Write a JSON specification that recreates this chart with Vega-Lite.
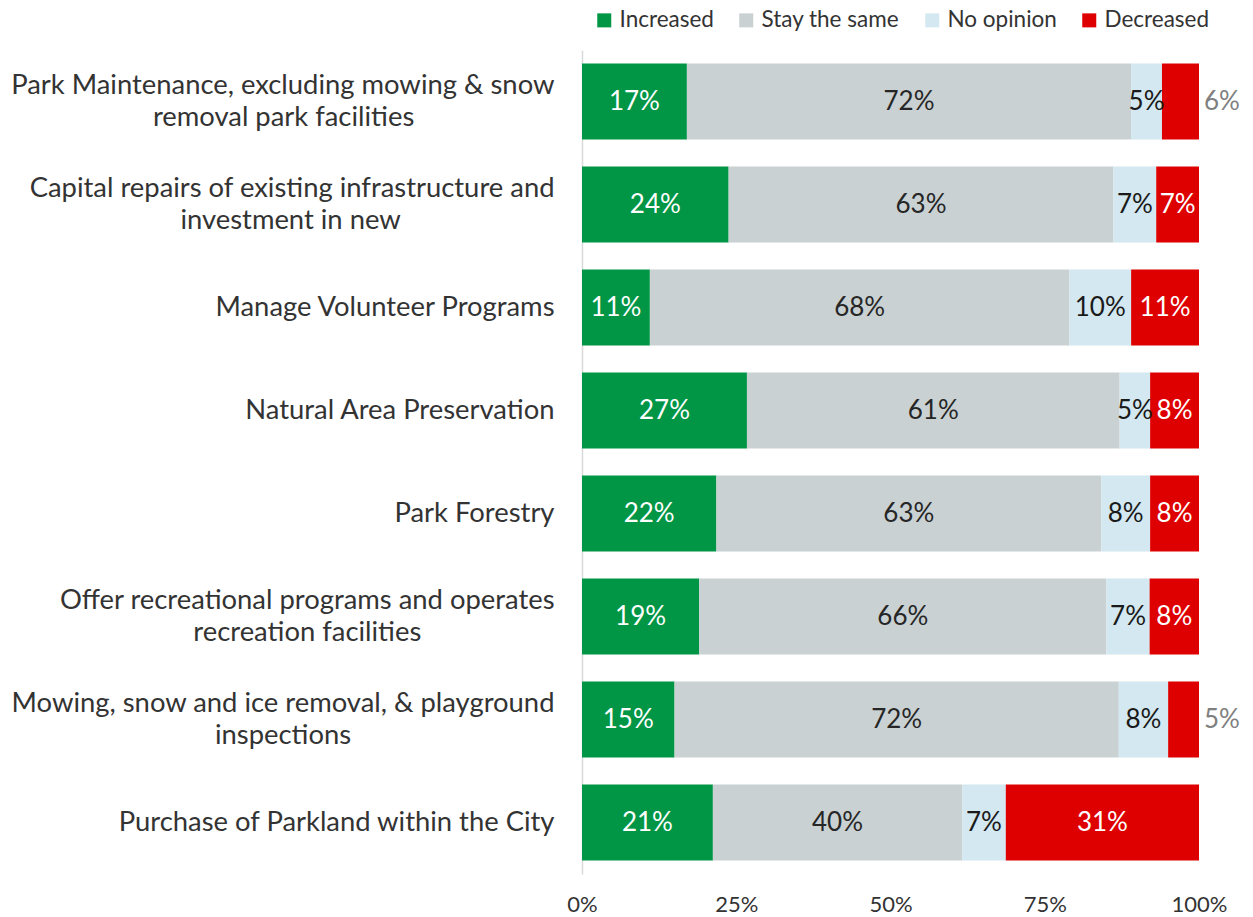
{
  "$schema": "https://vega.github.io/schema/vega-lite/v6.json",
  "width": 617,
  "height": 824,
  "autosize": {"type": "none"},
  "padding": {"left": 582, "top": 50, "right": 54, "bottom": 43},
  "config": {"view": {"stroke": null}, "font": "Lato"},
  "data": {
    "values": [
      {"task": "Park Maintenance, excluding mowing & snow|removal park facilities", "cat": "Increased", "k": 1, "value": 17, "label": "17%"},
      {"task": "Park Maintenance, excluding mowing & snow|removal park facilities", "cat": "Stay the same", "k": 2, "value": 72, "label": "72%"},
      {"task": "Park Maintenance, excluding mowing & snow|removal park facilities", "cat": "No opinion", "k": 3, "value": 5, "label": "5%"},
      {"task": "Park Maintenance, excluding mowing & snow|removal park facilities", "cat": "Decreased", "k": 4, "value": 6, "label": "6%"},
      {"task": "Capital repairs of existing infrastructure and|investment in new", "cat": "Increased", "k": 1, "value": 24, "label": "24%"},
      {"task": "Capital repairs of existing infrastructure and|investment in new", "cat": "Stay the same", "k": 2, "value": 63, "label": "63%"},
      {"task": "Capital repairs of existing infrastructure and|investment in new", "cat": "No opinion", "k": 3, "value": 7, "label": "7%"},
      {"task": "Capital repairs of existing infrastructure and|investment in new", "cat": "Decreased", "k": 4, "value": 7, "label": "7%"},
      {"task": "Manage Volunteer Programs", "cat": "Increased", "k": 1, "value": 11, "label": "11%"},
      {"task": "Manage Volunteer Programs", "cat": "Stay the same", "k": 2, "value": 68, "label": "68%"},
      {"task": "Manage Volunteer Programs", "cat": "No opinion", "k": 3, "value": 10, "label": "10%"},
      {"task": "Manage Volunteer Programs", "cat": "Decreased", "k": 4, "value": 11, "label": "11%"},
      {"task": "Natural Area Preservation", "cat": "Increased", "k": 1, "value": 27, "label": "27%"},
      {"task": "Natural Area Preservation", "cat": "Stay the same", "k": 2, "value": 61, "label": "61%"},
      {"task": "Natural Area Preservation", "cat": "No opinion", "k": 3, "value": 5, "label": "5%"},
      {"task": "Natural Area Preservation", "cat": "Decreased", "k": 4, "value": 8, "label": "8%"},
      {"task": "Park Forestry", "cat": "Increased", "k": 1, "value": 22, "label": "22%"},
      {"task": "Park Forestry", "cat": "Stay the same", "k": 2, "value": 63, "label": "63%"},
      {"task": "Park Forestry", "cat": "No opinion", "k": 3, "value": 8, "label": "8%"},
      {"task": "Park Forestry", "cat": "Decreased", "k": 4, "value": 8, "label": "8%"},
      {"task": "Offer recreational programs and operates|recreation facilities", "cat": "Increased", "k": 1, "value": 19, "label": "19%"},
      {"task": "Offer recreational programs and operates|recreation facilities", "cat": "Stay the same", "k": 2, "value": 66, "label": "66%"},
      {"task": "Offer recreational programs and operates|recreation facilities", "cat": "No opinion", "k": 3, "value": 7, "label": "7%"},
      {"task": "Offer recreational programs and operates|recreation facilities", "cat": "Decreased", "k": 4, "value": 8, "label": "8%"},
      {"task": "Mowing, snow and ice removal, & playground|inspections", "cat": "Increased", "k": 1, "value": 15, "label": "15%"},
      {"task": "Mowing, snow and ice removal, & playground|inspections", "cat": "Stay the same", "k": 2, "value": 72, "label": "72%"},
      {"task": "Mowing, snow and ice removal, & playground|inspections", "cat": "No opinion", "k": 3, "value": 8, "label": "8%"},
      {"task": "Mowing, snow and ice removal, & playground|inspections", "cat": "Decreased", "k": 4, "value": 5, "label": "5%"},
      {"task": "Purchase of Parkland within the City", "cat": "Increased", "k": 1, "value": 21, "label": "21%"},
      {"task": "Purchase of Parkland within the City", "cat": "Stay the same", "k": 2, "value": 40, "label": "40%"},
      {"task": "Purchase of Parkland within the City", "cat": "No opinion", "k": 3, "value": 7, "label": "7%"},
      {"task": "Purchase of Parkland within the City", "cat": "Decreased", "k": 4, "value": 31, "label": "31%"}
    ]
  },
  "encoding": {
    "y": {
      "field": "task",
      "type": "nominal",
      "sort": null,
      "scale": {"paddingInner": 0.26, "paddingOuter": 0.13},
      "axis": {
        "title": null,
        "ticks": false,
        "domain": true,
        "domainColor": "#D9D9D9",
        "domainWidth": 1.5,
        "labelFontSize": 27.4,
        "labelLineHeight": 32,
        "labelPadding": 28,
        "labelLimit": 0,
        "labelColor": "#333333",
        "labelOffset": {"condition": {"test": "indexof(datum.value, '|') >= 0", "value": -16}, "value": 0},
        "labelExpr": "indexof(datum.label, '|') < 0 ? datum.label : [split(datum.label, '|')[0], split(datum.label, '|')[1] + pad('', {'removal park facilities': 20, 'investment in new': 22, 'recreation facilities': 19, 'inspections': 29}[split(datum.label, '|')[1]], '\u00a0') + '\u200b']"
      }
    }
  },
  "layer": [
    {
      "mark": {"type": "bar"},
      "encoding": {
        "x": {
          "field": "value",
          "type": "quantitative",
          "stack": "normalize",
          "scale": {"domain": [0, 1]},
          "axis": {
            "title": null,
            "format": ".0%",
            "values": [0, 0.25, 0.5, 0.75, 1],
            "grid": false,
            "domain": false,
            "ticks": false,
            "labelFlush": false,
            "labelFontSize": 22,
            "labelColor": "#333333",
            "labelPadding": 20
          }
        },
        "color": {
          "field": "cat",
          "type": "nominal",
          "scale": {
            "domain": ["Increased", "Stay the same", "No opinion", "Decreased"],
            "range": ["#009645", "#C9D1D3", "#D3E8F0", "#DE0000"]
          },
          "legend": {
            "title": null,
            "orient": "none",
            "legendX": 11,
            "legendY": -41,
            "direction": "horizontal",
            "symbolType": "square",
            "symbolSize": 196,
            "labelFontSize": 22.5,
            "labelColor": "#333333",
            "labelOffset": 4,
            "columnPadding": 21
          }
        },
        "order": {"field": "k"}
      }
    },
    {
      "mark": {"type": "text", "fontSize": 26, "baseline": "middle", "align": "center"},
      "encoding": {
        "x": {"field": "value", "type": "quantitative", "stack": "normalize", "bandPosition": 0.5},
        "text": {
          "condition": {"test": "datum.cat == 'Decreased' && datum.value < 7", "value": ""},
          "field": "label"
        },
        "color": {
          "field": "cat",
          "type": "nominal",
          "scale": {
            "domain": ["Increased", "Stay the same", "No opinion", "Decreased"],
            "range": ["#FFFFFF", "#262626", "#1A1A1A", "#FFFFFF"]
          },
          "legend": null
        },
        "order": {"field": "k"}
      }
    },
    {
      "transform": [{"filter": "datum.cat == 'Decreased' && datum.value < 7"}],
      "mark": {"type": "text", "fontSize": 26, "baseline": "middle", "align": "left", "dx": 5, "color": "#7F7F7F"},
      "encoding": {
        "x": {"datum": 1, "type": "quantitative"},
        "text": {"field": "label"}
      }
    }
  ],
  "resolve": {"scale": {"color": "independent"}}
}
